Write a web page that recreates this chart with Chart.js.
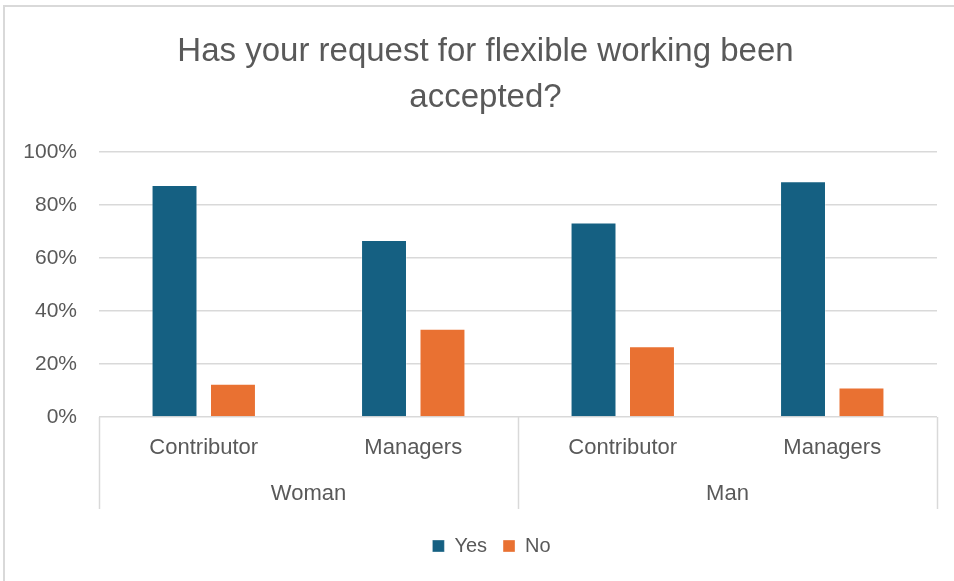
<!DOCTYPE html>
<html>
<head>
<meta charset="utf-8">
<script src="https://cdn.jsdelivr.net/npm/chart.js@4.4.1/dist/chart.umd.min.js"></script>
<style>
  html, body { margin: 0; padding: 0; background: #ffffff; }
  #wrap { position: relative; width: 954px; height: 581px; overflow: hidden; }
  #frame {
    position: absolute; left: 3px; top: 5px; right: 0; bottom: 0;
    border-top: 2px solid #d9d9d9; border-left: 2px solid #d9d9d9;
  }
  #chart { position: absolute; left: 0; top: 0; }
</style>
</head>
<body>
<div id="wrap">
  <div id="frame"></div>
  <canvas id="chart" width="954" height="581"></canvas>
</div>
<script>
// Survey answers: share of requests accepted / refused, by role within gender
const titleLines = ['Has your request for flexible working been', 'accepted?'];
const roles = ['Contributor', 'Managers', 'Contributor', 'Managers'];
const genders = ['Woman', 'Man'];
const yesShare = [87.5, 66.7, 73.3, 88.9];
const noShare = [12.5, 33.3, 26.7, 11.1];
const yTicks = [0, 20, 40, 60, 80, 100];

const FONT = '"Liberation Sans", Arial, sans-serif';
const TEXT = '#595959';
const GRID = '#d9d9d9';

// Second-level category axis: gender groups with separators below the plot
const groupAxis = {
  id: 'groupAxis',
  afterDraw(chart) {
    const x = chart.scales.x;
    const area = chart.chartArea;
    const ctx = chart.ctx;
    const per = roles.length / genders.length;
    const boundary = (g) => {
      if (g === 0) return x.left;
      if (g === genders.length) return x.right;
      return (x.getPixelForTick(g * per - 1) + x.getPixelForTick(g * per)) / 2;
    };
    ctx.save();
    ctx.strokeStyle = GRID;
    ctx.lineWidth = 1.5;
    for (let g = 0; g <= genders.length; g++) {
      const px = Math.round(boundary(g)) + 0.5;
      ctx.beginPath();
      ctx.moveTo(px, area.bottom);
      ctx.lineTo(px, area.bottom + 92);
      ctx.stroke();
    }
    ctx.fillStyle = TEXT;
    ctx.font = '22px ' + FONT;
    ctx.textAlign = 'center';
    ctx.textBaseline = 'middle';
    genders.forEach((name, g) => {
      const cx = (x.getPixelForTick(g * per) + x.getPixelForTick(g * per + per - 1)) / 2;
      ctx.fillText(name, cx, area.bottom + 77);
    });
    ctx.restore();
  }
};

// Centre the title and legend rows under the whole figure width
const rowShift = {
  id: 'rowShift',
  afterLayout(chart) {
    if (chart.legend) {
      chart.legend.left += 23;
      chart.legend.right += 23;
    }
    if (chart.titleBlock) {
      chart.titleBlock.left += 17;
      chart.titleBlock.right += 17;
    }
  }
};

new Chart(document.getElementById('chart'), {
  type: 'bar',
  data: {
    labels: roles,
    datasets: [
      { label: 'Yes', data: yesShare, backgroundColor: '#156082', borderColor: 'rgba(255,255,255,0.35)', borderWidth: 1 },
      { label: 'No', data: noShare, backgroundColor: '#E97132', borderColor: 'rgba(255,255,255,0.35)', borderWidth: 1 }
    ]
  },
  options: {
    responsive: false,
    animation: false,
    layout: { padding: { left: 0, right: 17, top: 0, bottom: 15 } },
    datasets: { bar: { categoryPercentage: 0.558, barPercentage: 0.786 } },
    plugins: {
      title: {
        display: true,
        text: titleLines,
        color: TEXT,
        font: { family: FONT, size: 33, weight: 'normal', lineHeight: 1.42 },
        padding: { top: 28, bottom: 30 }
      },
      legend: {
        position: 'bottom',
        labels: {
          color: TEXT,
          font: { family: FONT, size: 20 },
          boxWidth: 12,
          boxHeight: 12,
          padding: 16
        }
      },
      tooltip: { enabled: false }
    },
    scales: {
      x: {
        offset: true,
        grid: { display: false },
        border: { display: false },
        ticks: { color: TEXT, font: { family: FONT, size: 22 }, padding: 10, maxRotation: 0, autoSkip: false },
        afterFit(scale) { scale.height = 103; }
      },
      y: {
        min: yTicks[0],
        max: yTicks[yTicks.length - 1],
        afterBuildTicks(scale) { scale.ticks = yTicks.map(v => ({ value: v })); },
        grid: { color: GRID, lineWidth: 1.5, drawTicks: false },
        border: { display: false },
        ticks: { color: TEXT, font: { family: FONT, size: 21 }, padding: 22, callback: v => v + '%' },
        afterFit(scale) { scale.width = 99; }
      }
    }
  },
  plugins: [groupAxis, rowShift]
});
</script>
</body>
</html>
